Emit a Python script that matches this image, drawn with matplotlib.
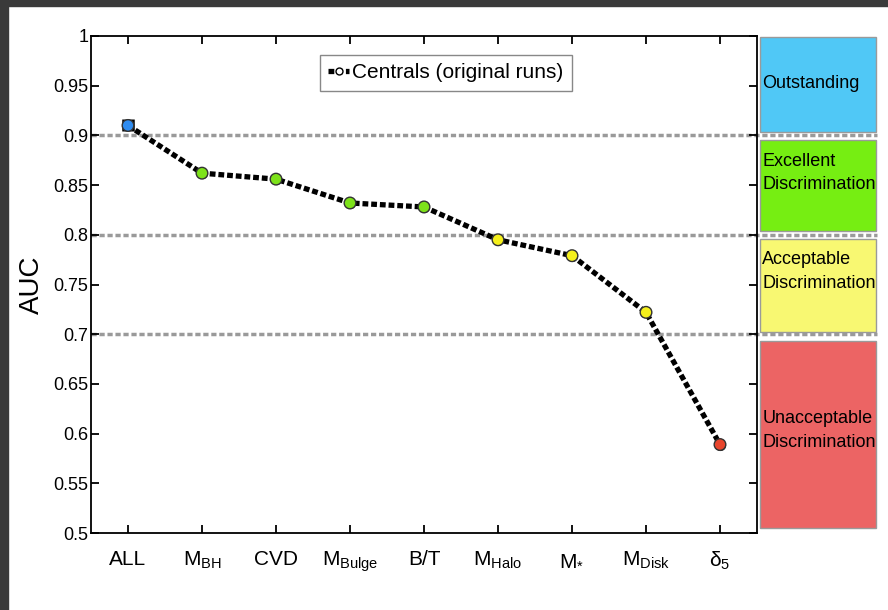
import matplotlib
matplotlib.use("Agg")
import matplotlib.pyplot as plt
import matplotlib.transforms as mtransforms
from matplotlib.patches import Rectangle

plt.rcParams['font.family'] = ['Liberation Sans', 'DejaVu Sans']
plt.rcParams['mathtext.fontset'] = 'custom'
plt.rcParams['mathtext.rm'] = 'Liberation Sans'
plt.rcParams['mathtext.it'] = 'Liberation Sans'

# data
labels = ['ALL', r'M$_{\mathrm{BH}}$', 'CVD', r'M$_{\mathrm{Bulge}}$', 'B/T',
          r'M$_{\mathrm{Halo}}$', r'M$_{*}$', r'M$_{\mathrm{Disk}}$', r'$\delta_5$']
auc = [0.910, 0.862, 0.856, 0.832, 0.828, 0.795, 0.779, 0.722, 0.589]
auc_err = [0.006, 0, 0, 0, 0, 0, 0, 0, 0]
point_colors = ['#2f8cf0', '#7de21a', '#7de21a', '#7de21a', '#7de21a',
                '#f5f01c', '#f5f01c', '#f5f01c', '#e8452c']

thresholds = [0.9, 0.8, 0.7]
# name, lower, upper, text y, colour
bands = [
    ('Outstanding', 0.903, 0.999, 0.952, '#50c8f6'),
    ('Excellent\nDiscrimination', 0.804, 0.895, 0.862, '#76ee12'),
    ('Acceptable\nDiscrimination', 0.702, 0.796, 0.763, '#f8f872'),
    ('Unacceptable\nDiscrimination', 0.505, 0.693, 0.603, '#ec6464'),
]

fig = plt.figure(figsize=(8.88, 6.10), dpi=100)
fig.patch.set_facecolor('white')
# dark frame from the screenshot
fig.patches.append(Rectangle((0, 1 - 6 / 610), 1, 6 / 610, transform=fig.transFigure,
                             color='#3a3a3a', zorder=0))
fig.patches.append(Rectangle((0, 0), 8 / 888, 1, transform=fig.transFigure,
                             color='#3a3a3a', zorder=0))

ax = fig.add_axes([91 / 888, 1 - 533 / 610, 666 / 888, 497 / 610])
x = list(range(1, len(auc) + 1))

trans = mtransforms.blended_transform_factory(ax.transAxes, ax.transData)
for t in thresholds:
    ax.plot([0, 1.18], [t, t], transform=trans, color='#9a9a9a', lw=2.5,
            ls=(0, (1.5, 0.8)), clip_on=False, zorder=1)

for name, lo, hi, ty, col in bands:
    ax.add_patch(Rectangle((1.005, lo), 0.174, hi - lo, transform=trans,
                           facecolor=col, edgecolor='#9a9a9a', lw=1,
                           clip_on=False, zorder=2))
    ax.text(1.008, ty, name, transform=trans, ha='left', va='center',
            fontsize=13, linespacing=1.5, clip_on=False, zorder=3)

ax.plot(x, auc, color='black', lw=3.8, ls=(0, (1.1, 0.55)), zorder=3,
        label='Centrals (original runs)', marker='o', markersize=7,
        markerfacecolor='white', markeredgecolor='black')
ax.errorbar(x[0], auc[0], yerr=auc_err[0], fmt='none', ecolor='black',
            elinewidth=9, capsize=0, zorder=4)
ax.scatter(x, auc, s=70, c=point_colors, edgecolors='#333333', linewidths=1,
           zorder=5)

ax.set_xlim(0.5, 9.5)
ax.set_ylim(0.5, 1.0)
ax.set_xticks(x)
ax.set_xticklabels(labels, fontsize=15)
ax.set_yticks([0.5, 0.55, 0.6, 0.65, 0.7, 0.75, 0.8, 0.85, 0.9, 0.95, 1.0])
ax.set_yticklabels(['0.5', '0.55', '0.6', '0.65', '0.7', '0.75', '0.8', '0.85',
                    '0.9', '0.95', '1'], fontsize=13)
ax.tick_params(direction='in', length=6, width=1.3, top=True, right=True)
ax.tick_params(axis='x', pad=12)
ax.tick_params(axis='y', pad=2)
for s in ax.spines.values():
    s.set_linewidth(1.3)
ax.set_ylabel('AUC', fontsize=20, labelpad=6)

leg = ax.legend(loc='upper center', bbox_to_anchor=(0.533, 0.962), fontsize=15,
                handlelength=1.0, handletextpad=0.15, borderpad=0.4,
                borderaxespad=0, fancybox=False, framealpha=1)
leg.get_frame().set_edgecolor('#888888')
leg.get_frame().set_linewidth(1.0)
leg.legend_handles[0].set_markersize(5)

fig.savefig('out.png', dpi=100)
